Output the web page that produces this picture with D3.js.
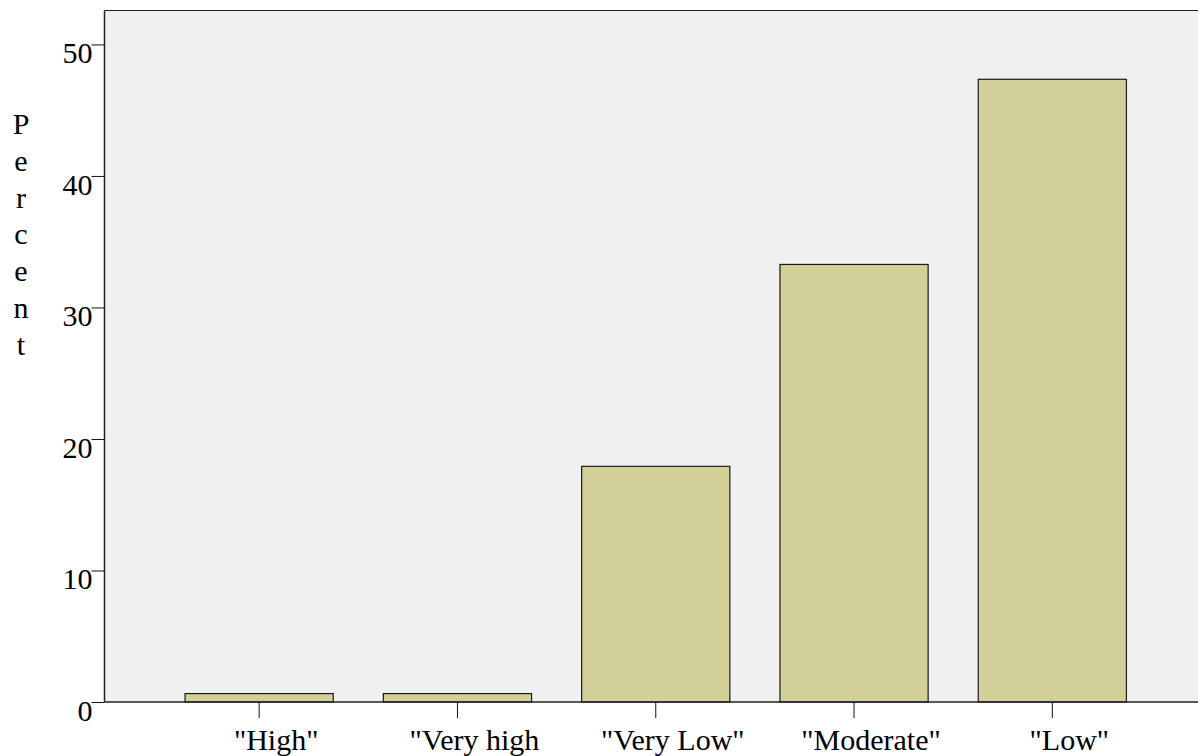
<!DOCTYPE html>
<html>
<head>
<meta charset="utf-8">
<script src="https://cdn.jsdelivr.net/npm/d3@7"></script>
<style>
  html, body { margin: 0; padding: 0; background: #ffffff; }
  svg { display: block; }
  text { font-family: "Liberation Serif", "Times New Roman", serif; fill: #000; }
</style>
</head>
<body>
<svg id="chart" width="1198" height="756"></svg>
<script>
const categories = ['"High"', '"Very high', '"Very Low"', '"Moderate"', '"Low"'];
const percents = [0.64, 0.64, 17.92, 33.27, 47.35];
const yTicks = [0, 10, 20, 30, 40, 50];
const yTitle = "Percent";

const svg = d3.select("#chart");
const W = 1198, H = 756;
const plot = { left: 104.5, top: 10.5, right: 1198, bottom: 702 };

const y = d3.scaleLinear().domain([0, 52.58]).range([plot.bottom, plot.top]);
const x = d3.scaleBand().domain(categories)
  .range([160, 1151.5]).paddingInner(0.2527).paddingOuter(0.1264);

// background
svg.append("rect")
  .attr("x", plot.left).attr("y", plot.top)
  .attr("width", plot.right - plot.left).attr("height", plot.bottom - plot.top)
  .attr("fill", "#f0f0f0");

// bars
svg.append("g").selectAll("rect").data(categories).join("rect")
  .attr("x", d => x(d))
  .attr("y", (d, i) => y(percents[i]))
  .attr("width", x.bandwidth())
  .attr("height", (d, i) => y(0) - y(percents[i]))
  .attr("fill", "#d3cf99")
  .attr("stroke", "#1a1a1a")
  .attr("stroke-width", 1.2);

// frame lines (top, left)
svg.append("line").attr("x1", plot.left).attr("x2", plot.right)
  .attr("y1", plot.top).attr("y2", plot.top)
  .attr("stroke", "#222").attr("stroke-width", 1.2);

// Y axis
const yAxis = d3.axisLeft(y).tickValues(yTicks).tickSize(13).tickPadding(0)
  .tickFormat(d3.format("d"));
const gy = svg.append("g").attr("transform", `translate(${plot.left},0)`).call(yAxis);
gy.select(".domain").attr("stroke", "#222").attr("stroke-width", 1.5)
  .attr("d", `M0,${plot.top}V${plot.bottom}`);
gy.selectAll(".tick line").attr("stroke", "#111").attr("stroke-width", 1);
gy.selectAll(".tick text")
  .attr("x", -12).attr("dy", "18.5px")
  .attr("text-anchor", "end")
  .style("font-family", '"Liberation Serif", "Times New Roman", serif')
  .style("font-size", "30px").attr("fill", "#000");

// X axis
const xAxis = d3.axisBottom(x).tickSize(16).tickPadding(0);
const gx = svg.append("g").attr("transform", `translate(0,${plot.bottom})`).call(xAxis);
gx.select(".domain").attr("stroke", "#222").attr("stroke-width", 1.5)
  .attr("d", `M${plot.left},0H${plot.right}`);
gx.selectAll(".tick line").attr("stroke", "#111").attr("stroke-width", 1);
gx.selectAll(".tick text")
  .attr("y", 48).attr("dy", 0).attr("x", 17)
  .attr("text-anchor", "middle")
  .style("font-family", '"Liberation Serif", "Times New Roman", serif')
  .style("font-size", "30px").attr("fill", "#000");

// Y title: stacked letters
svg.append("g").selectAll("text").data(yTitle.split("")).join("text")
  .attr("x", 21)
  .attr("y", (d, i) => 134 + i * 36.8)
  .attr("text-anchor", "middle")
  .style("font-size", "30px")
  .text(d => d);
</script>
</body>
</html>
